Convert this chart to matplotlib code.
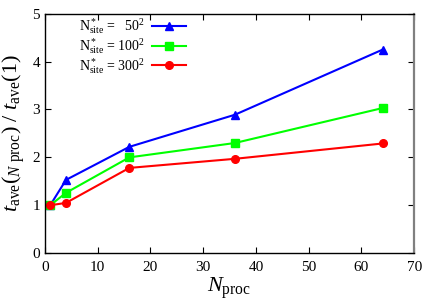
import matplotlib
matplotlib.use("Agg")
import matplotlib.pyplot as plt

plt.rcParams['font.family'] = ['Liberation Serif', 'DejaVu Serif']
plt.rcParams['mathtext.fontset'] = 'custom'
plt.rcParams['mathtext.rm'] = 'Liberation Serif'
plt.rcParams['mathtext.it'] = 'Liberation Serif:italic'

n_proc = [1, 4, 16, 36, 64]
t_50 = [1.0, 1.53, 2.22, 2.89, 4.25]
t_100 = [1.0, 1.26, 2.0, 2.30, 3.03]
t_300 = [1.0, 1.05, 1.78, 1.97, 2.29]

fig = plt.figure(figsize=(4.36, 3.05), dpi=100)
ax = fig.add_axes([0.103, 0.17, 0.847, 0.785])

ax.plot(n_proc, t_50, color='#0000ff', marker='^', ms=5.5, lw=1.5,
        label=r'N$^*_{\rm site}$ =   50$^2$')
ax.plot(n_proc, t_100, color='#00ff00', marker='s', ms=5.5, lw=1.5,
        label=r'N$^*_{\rm site}$ = 100$^2$')
ax.plot(n_proc, t_300, color='#ff0000', marker='o', ms=5.5, lw=1.5,
        label=r'N$^*_{\rm site}$ = 300$^2$')

ax.set_xlim(0, 70)
ax.set_ylim(0, 5)
ax.set_xticks(range(0, 71, 10))
ax.set_yticks(range(0, 6))
ax.tick_params(direction='in', top=True, right=True, labelsize=11, length=4)
ax.tick_params(axis='x', pad=6)
for s in ax.spines.values():
    s.set_linewidth(1.0)
ax.spines['right'].set_color('#808080')
ax.spines['right'].set_linewidth(1.6)
ax.set_xlabel(r'$N_{\rm proc}$', fontsize=16, labelpad=1)
ax.set_ylabel(r'$t_{\rm ave}({}_{N\ {\rm proc}})\ /\ t_{\rm ave}(1)$',
              fontsize=16, labelpad=4)

ax.legend(loc='upper right', markerfirst=False, frameon=False, fontsize=10,
          handlelength=2.4, handletextpad=0.5, labelspacing=0.0,
          borderaxespad=0.0, bbox_to_anchor=(0.396, 1.012))

fig.savefig('out.png', dpi=100)
